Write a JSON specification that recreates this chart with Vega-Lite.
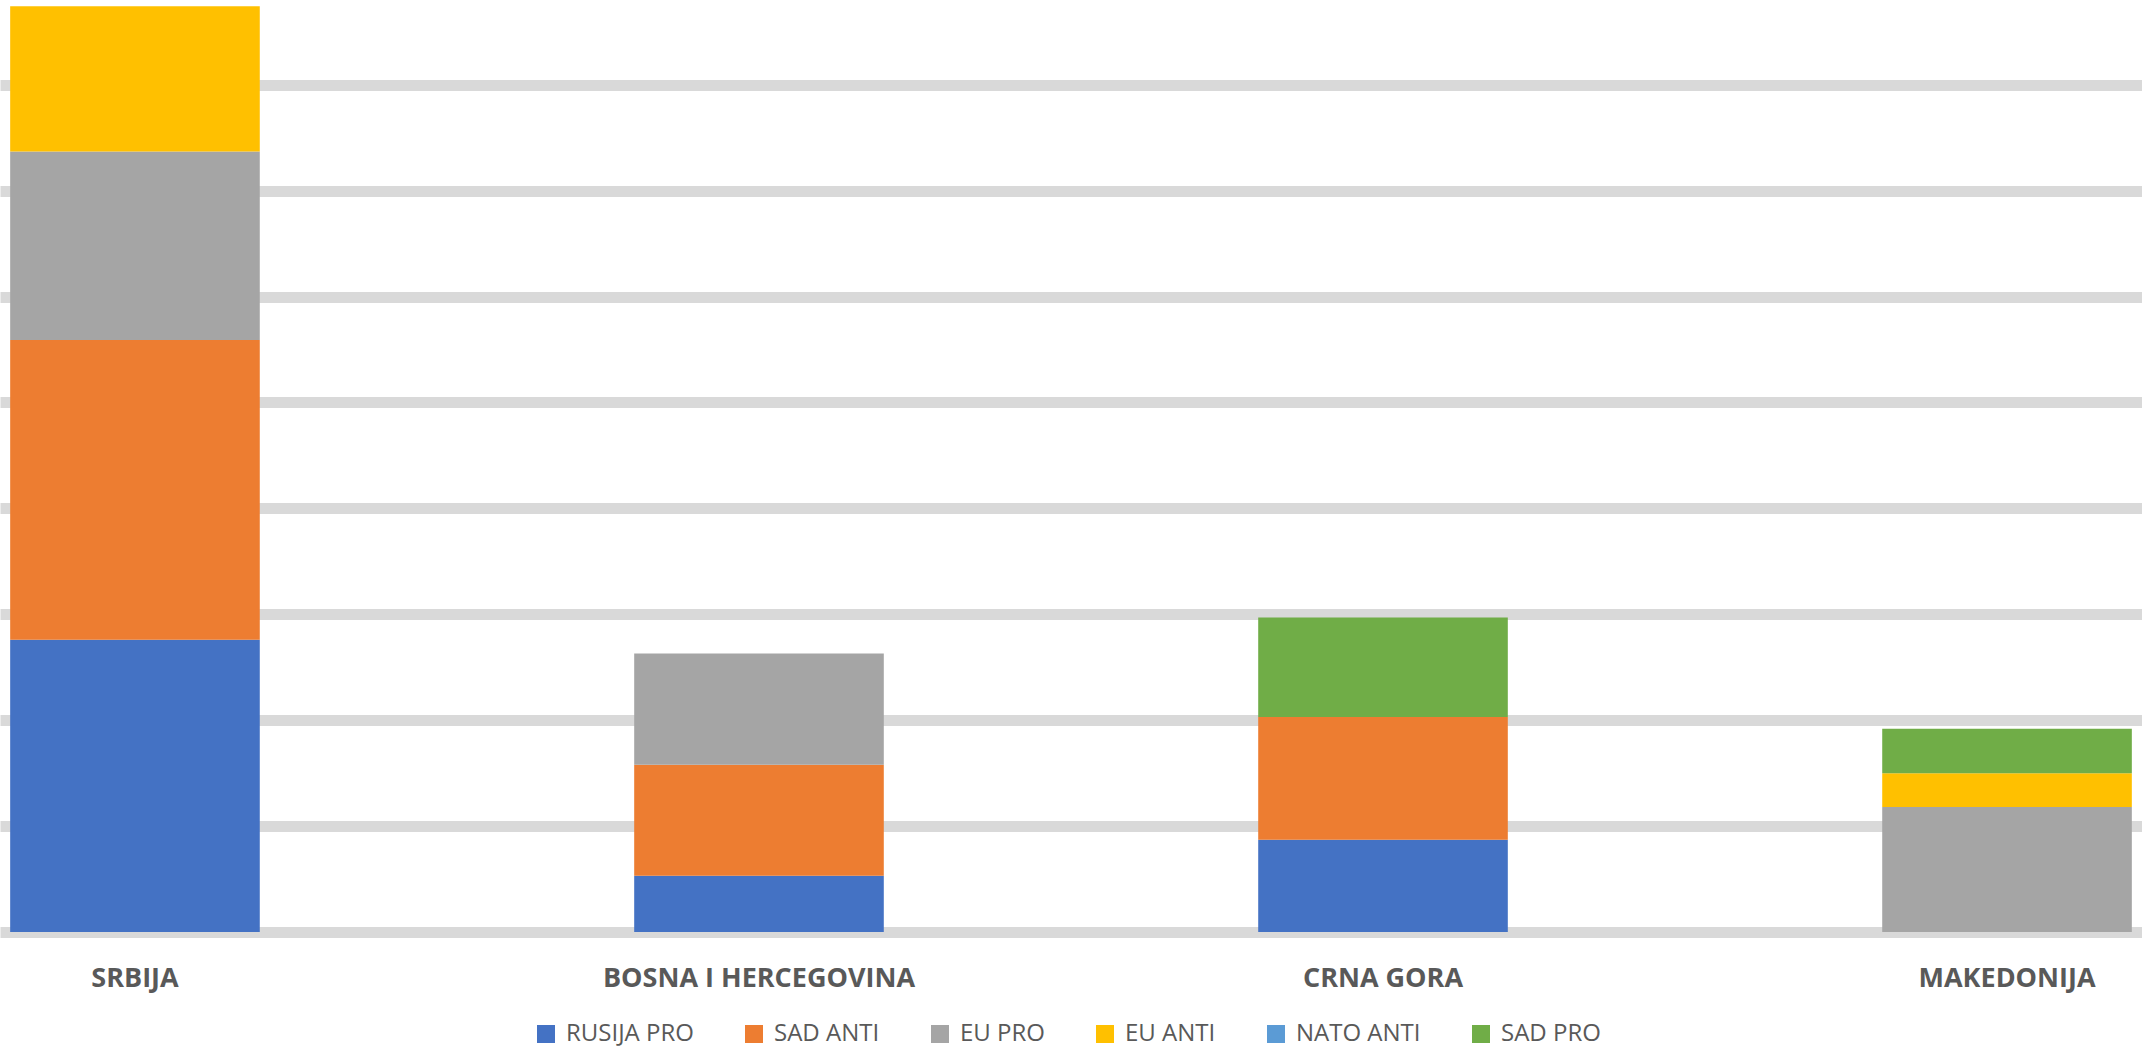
{
  "$schema": "https://vega.github.io/schema/vega-lite/v6.json",
  "width": 2142,
  "height": 932,
  "padding": {"top": 0, "left": 0, "right": 0, "bottom": 120},
  "autosize": {"type": "none"},
  "background": "white",
  "config": {"view": {"stroke": null}},
  "data": {
    "values": [
      {"country": "SRBIJA", "series": "RUSIJA PRO", "value": 27.6},
      {"country": "SRBIJA", "series": "SAD ANTI", "value": 28.3},
      {"country": "SRBIJA", "series": "EU PRO", "value": 17.8},
      {"country": "SRBIJA", "series": "EU ANTI", "value": 13.7},
      {"country": "BOSNA I HERCEGOVINA", "series": "RUSIJA PRO", "value": 5.3},
      {"country": "BOSNA I HERCEGOVINA", "series": "SAD ANTI", "value": 10.5},
      {"country": "BOSNA I HERCEGOVINA", "series": "EU PRO", "value": 10.5},
      {"country": "CRNA GORA", "series": "RUSIJA PRO", "value": 8.7},
      {"country": "CRNA GORA", "series": "SAD ANTI", "value": 11.6},
      {"country": "CRNA GORA", "series": "SAD PRO", "value": 9.4},
      {"country": "MAKEDONIJA", "series": "EU PRO", "value": 11.8},
      {"country": "MAKEDONIJA", "series": "EU ANTI", "value": 3.2},
      {"country": "MAKEDONIJA", "series": "SAD PRO", "value": 4.2}
    ]
  },
  "transform": [
    {"calculate": "indexof(['RUSIJA PRO','SAD ANTI','EU PRO','EU ANTI','NATO ANTI','SAD PRO'], datum.series)", "as": "stackOrder"}
  ],
  "mark": {"type": "bar"},
  "encoding": {
    "x": {
      "field": "country",
      "type": "nominal",
      "sort": ["SRBIJA", "BOSNA I HERCEGOVINA", "CRNA GORA", "MAKEDONIJA"],
      "scale": {"paddingInner": 0.6, "paddingOuter": 0.0163},
      "axis": {
        "title": null,
        "labelAngle": 0,
        "ticks": false,
        "domain": false,
        "grid": false,
        "labelLimit": 0,
        "labelFont": "Open Sans",
        "labelFontSize": 27,
        "labelFontWeight": "bold",
        "labelColor": "#595959",
        "labelPadding": 33
      }
    },
    "y": {
      "field": "value",
      "type": "quantitative",
      "stack": "zero",
      "scale": {"domain": [0, 88], "nice": false},
      "axis": {
        "title": null,
        "labels": false,
        "ticks": false,
        "domain": false,
        "values": [0, 10, 20, 30, 40, 50, 60, 70, 80],
        "gridColor": "#D9D9D9",
        "gridWidth": 11
      }
    },
    "order": {"field": "stackOrder", "type": "quantitative", "sort": "ascending"},
    "color": {
      "field": "series",
      "type": "nominal",
      "scale": {
        "domain": ["RUSIJA PRO", "SAD ANTI", "EU PRO", "EU ANTI", "NATO ANTI", "SAD PRO"],
        "range": ["#4472C4", "#ED7D31", "#A5A5A5", "#FFC000", "#5B9BD5", "#70AD47"]
      },
      "legend": {
        "orient": "none",
        "legendX": 534,
        "legendY": 1022,
        "direction": "horizontal",
        "title": null,
        "symbolType": "square",
        "symbolSize": 324,
        "symbolStrokeWidth": 0,
        "labelFont": "Open Sans",
        "labelFontSize": 24,
        "labelColor": "#595959",
        "labelLimit": 0,
        "columnPadding": 48,
        "labelOffset": 8
      }
    }
  }
}
